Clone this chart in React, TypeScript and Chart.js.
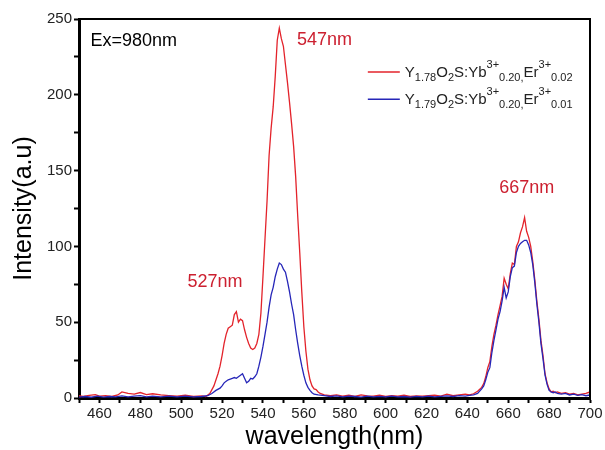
import { useEffect, useRef } from "react";
import { Chart, registerables } from "chart.js";

Chart.register(...registerables);

// ---- Data (wavelength nm, intensity a.u.) ----
const redSeriesLabel = "Y1.78O2S:Yb3+0.20,Er3+0.02";
const blueSeriesLabel = "Y1.79O2S:Yb3+0.20,Er3+0.01";

const redSpectrum: [number, number][] = [
  [450, 1.5], [452, 1], [455, 1.8], [458, 2.2], [460, 1.2], [463, 1.5], [466, 1], [469, 2], [471, 4], [474, 3],
  [477, 2.6], [480, 3.6], [483, 2.2], [486, 2.8], [490, 2], [494, 1.6], [498, 1.2], [502, 1.8], [506, 1], [510, 1.4],
  [512, 1], [514, 3], [516, 8], [518, 16], [519, 21], [520, 28], [521, 36], [522, 42], [523, 46], [524, 47],
  [525, 48], [526, 55], [527, 57], [528, 50], [529, 52], [530, 51], [531, 45], [532, 40], [533, 36], [534, 33],
  [535, 32], [536, 33], [537, 36], [538, 42], [539, 56], [540, 80], [541, 105], [542, 130], [543, 160], [544, 178],
  [545, 192], [546, 212], [547, 236], [548, 244], [549, 237], [550, 232], [551, 220], [552, 208], [553, 195], [554, 181],
  [555, 166], [556, 146], [557, 120], [558, 96], [559, 70], [560, 47], [561, 31], [562, 19], [563, 12], [564, 8],
  [565, 6], [566, 5.5], [567, 4], [568, 3], [570, 2], [573, 1.5], [576, 2], [579, 1.2], [582, 1.8], [585, 1],
  [588, 2], [591, 1.4], [594, 1.2], [597, 1.8], [600, 1], [603, 1.5], [606, 1.2], [609, 1.8], [612, 1], [615, 1.4],
  [618, 1.2], [621, 1.6], [624, 1.8], [627, 1.3], [630, 2.5], [633, 1.5], [636, 2], [639, 2.5], [641, 2], [643, 2.8],
  [645, 4.5], [647, 7], [648, 9.5], [649, 14], [650, 20], [651, 24], [652, 34], [653, 42], [654, 48], [655, 55],
  [656, 61], [657, 67], [658, 79], [659, 75], [660, 72], [661, 82], [662, 89], [663, 88], [664, 100], [665, 103],
  [666, 109], [667, 113], [668, 119], [669, 110], [670, 106], [671, 100], [672, 90], [673, 78], [674, 64], [675, 52],
  [676, 38], [677, 28], [678, 16], [679, 10], [680, 6], [681, 4], [682, 4.5], [683, 3.5], [684, 4], [686, 3],
  [688, 3.5], [690, 2.5], [692, 3], [694, 2], [696, 2.5], [698, 3], [700, 4],
];

const blueSpectrum: [number, number][] = [
  [450, 0.6], [453, 1], [456, 0.5], [459, 1.2], [462, 0.6], [465, 1], [468, 0.8], [471, 1.4], [474, 0.8], [477, 1.2],
  [480, 1.6], [483, 0.8], [486, 1.2], [490, 0.7], [494, 1.2], [498, 0.8], [502, 1.3], [506, 0.7], [510, 1], [513, 1.5],
  [515, 3], [517, 5], [519, 6.5], [520, 8], [521, 10], [522, 11], [523, 12], [524, 12.5], [525, 13], [526, 13.5],
  [527, 13], [528, 14], [529, 15], [530, 16], [531, 13], [532, 10], [533, 11], [534, 13], [535, 12.5], [536, 14],
  [537, 16], [538, 21], [539, 27], [540, 34], [541, 42], [542, 50], [543, 60], [544, 68], [545, 73], [546, 80],
  [547, 85], [548, 89], [549, 88], [550, 85], [551, 83], [552, 77], [553, 70], [554, 62], [555, 55], [556, 45],
  [557, 36], [558, 28], [559, 21], [560, 15], [561, 10], [562, 7], [563, 5], [564, 3.5], [565, 2.5], [567, 2],
  [570, 1.5], [573, 1], [576, 1.4], [579, 0.8], [582, 1.2], [585, 1], [588, 0.6], [591, 1.2], [594, 0.8], [597, 1.1],
  [600, 0.7], [603, 1.2], [606, 0.8], [609, 1], [612, 0.6], [615, 1.1], [618, 0.8], [621, 1.2], [624, 0.7], [627, 1.1],
  [630, 1.4], [633, 1], [636, 1.5], [639, 1.2], [641, 1.8], [643, 2], [645, 3], [647, 6], [648, 8], [649, 12],
  [650, 17], [651, 20], [652, 30], [653, 38], [654, 45], [655, 52], [656, 57], [657, 64], [658, 73], [659, 66],
  [660, 70], [661, 80], [662, 86], [663, 87], [664, 96], [665, 100], [666, 102], [667, 103], [668, 104], [669, 104],
  [670, 101], [671, 96], [672, 88], [673, 76], [674, 62], [675, 50], [676, 36], [677, 26], [678, 15], [679, 9],
  [680, 5], [681, 4], [682, 3.5], [683, 4], [684, 3], [686, 2.5], [688, 3], [690, 2], [692, 2.5], [694, 1.8],
  [696, 2.2], [698, 1.5], [700, 2],
];

// legend formula pieces: [text, kind] with kind n / sub / sup
const redFormula: [string, string][] = [
  ["Y", "n"], ["1.78", "sub"], ["O", "n"], ["2", "sub"], ["S:Yb", "n"], ["3+", "sup"], ["0.20,", "sub"],
  ["Er", "n"], ["3+", "sup"], ["0.02", "sub"],
];
const blueFormula: [string, string][] = [
  ["Y", "n"], ["1.79", "sub"], ["O", "n"], ["2", "sub"], ["S:Yb", "n"], ["3+", "sup"], ["0.20,", "sub"],
  ["Er", "n"], ["3+", "sup"], ["0.01", "sub"],
];

const xRange = [450, 700];
const yRange = [0, 250];
const xTitle = "wavelength(nm)";
const yTitle = "Intensity(a.u)";
const noteTexts = ["Ex=980nm", "547nm", "527nm", "667nm"];

const FONT = "'Liberation Sans', Arial, sans-serif";
const RED = "#e3232b";
const BLUE = "#2626b8";
const TEXT_RED = "#cc2030";

export default function App() {
  const canvasRef = useRef<HTMLCanvasElement | null>(null);

  useEffect(() => {
    if (!canvasRef.current) return;
    Chart.defaults.font.family = FONT;

    // anchor points for notes, in data units
    const noteAnchors: [number, number][] = [
      [455.6, 235.5],
      [556.6, 236],
      [503.1, 76.5],
      [655.6, 138.5],
    ];
    const noteColors = ["#000", TEXT_RED, TEXT_RED, TEXT_RED];
    const legendAnchor: [number, number] = [591.3, 215];
    const legendAnchor2: [number, number] = [591.3, 197];

    const overlay = {
      id: "overlay",
      afterDraw(chart: any) {
        const { ctx, chartArea: a, scales } = chart;
        const xs = scales.x;
        const ys = scales.y;
        ctx.save();
        // top and right frame
        ctx.strokeStyle = "#000";
        ctx.lineWidth = 2;
        ctx.beginPath();
        ctx.moveTo(a.left, a.top);
        ctx.lineTo(a.right, a.top);
        ctx.lineTo(a.right, a.bottom);
        ctx.stroke();

        // notes
        ctx.textBaseline = "middle";
        ctx.textAlign = "left";
        ctx.font = `18px ${FONT}`;
        noteTexts.forEach((t, i) => {
          ctx.fillStyle = noteColors[i];
          ctx.fillText(t, xs.getPixelForValue(noteAnchors[i][0]), ys.getPixelForValue(noteAnchors[i][1]));
        });

        // legend
        const drawEntry = (anchor: [number, number], color: string, formula: [string, string][]) => {
          const x0 = xs.getPixelForValue(anchor[0]);
          const y0 = ys.getPixelForValue(anchor[1]);
          ctx.strokeStyle = color;
          ctx.lineWidth = 1.5;
          ctx.beginPath();
          ctx.moveTo(x0, y0);
          ctx.lineTo(x0 + 32, y0);
          ctx.stroke();
          let x = x0 + 37;
          const base = y0 + 5;
          ctx.fillStyle = "#222";
          ctx.textBaseline = "alphabetic";
          formula.forEach(([t, k]) => {
            if (k === "n") {
              ctx.font = `15px ${FONT}`;
              ctx.fillText(t, x, base);
            } else if (k === "sub") {
              ctx.font = `11px ${FONT}`;
              ctx.fillText(t, x, base + 4);
            } else {
              ctx.font = `11px ${FONT}`;
              ctx.fillText(t, x, base - 9);
            }
            x += ctx.measureText(t).width;
          });
        };
        drawEntry(legendAnchor, RED, redFormula);
        drawEntry(legendAnchor2, BLUE, blueFormula);
        ctx.restore();
      },
    };

    const chart = new Chart(canvasRef.current, {
      type: "line",
      data: {
        datasets: [
          {
            label: redSeriesLabel,
            data: redSpectrum.map(([x, y]) => ({ x, y })),
            borderColor: RED,
            borderWidth: 1.3,
            pointRadius: 0,
            tension: 0,
            order: 1,
          },
          {
            label: blueSeriesLabel,
            data: blueSpectrum.map(([x, y]) => ({ x, y })),
            borderColor: BLUE,
            borderWidth: 1.3,
            pointRadius: 0,
            tension: 0,
            order: 0,
          },
        ],
      },
      options: {
        animation: false,
        responsive: false,
        devicePixelRatio: 1,
        layout: { padding: { top: 19, right: 15, left: 0, bottom: 0 } },
        plugins: { legend: { display: false }, tooltip: { enabled: false } },
        scales: {
          x: {
            type: "linear",
            min: xRange[0],
            max: xRange[1],
            ticks: {
              stepSize: 10,
              autoSkip: false,
              maxRotation: 0,
              padding: 2,
              color: "#222",
              font: { size: 15, family: FONT },
              callback: (v: any) => (Number(v) % 20 === 0 ? String(v) : ""),
            },
            grid: { drawOnChartArea: false, drawTicks: true, tickLength: 5, tickWidth: 2, tickColor: "#000" },
            border: { display: true, color: "#000", width: 3 },
            title: {
              display: true,
              text: xTitle,
              color: "#000",
              font: { size: 25, family: FONT, lineHeight: 1.0 },
              padding: { top: 0, bottom: 0 },
            },
            afterFit: (s: any) => {
              s.height = 52;
            },
          },
          y: {
            type: "linear",
            min: yRange[0],
            max: yRange[1],
            ticks: {
              stepSize: 25,
              autoSkip: false,
              padding: 2,
              color: "#222",
              font: { size: 15, family: FONT },
              callback: (v: any) => (Number(v) % 50 === 0 ? String(v) : ""),
            },
            grid: { drawOnChartArea: false, drawTicks: true, tickLength: 5, tickWidth: 2, tickColor: "#000" },
            border: { display: true, color: "#000", width: 3 },
            title: {
              display: true,
              text: yTitle,
              color: "#000",
              font: { size: 25, family: FONT },
              padding: { top: 9, bottom: 0 },
            },
            afterFit: (s: any) => {
              s.width = 79;
            },
          },
        },
      },
      plugins: [overlay],
    });
    return () => chart.destroy();
  }, []);

  return (
    <div style={{ position: "absolute", left: 0, top: 0, width: 605, height: 450, background: "#fff" }}>
      <canvas ref={canvasRef} width={605} height={450} style={{ width: 605, height: 450 }} />
    </div>
  );
}
